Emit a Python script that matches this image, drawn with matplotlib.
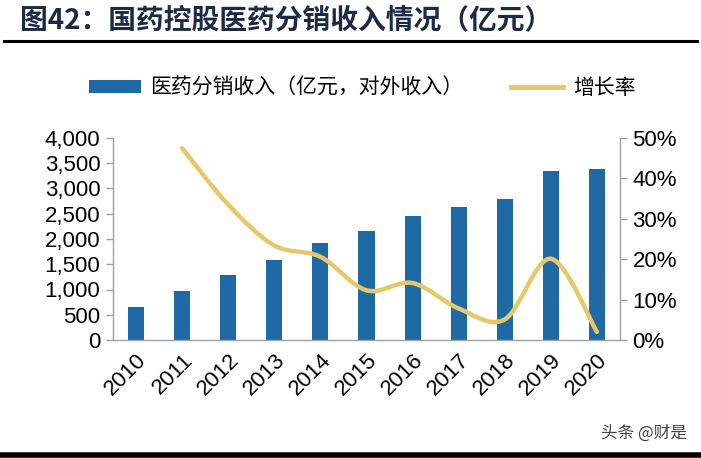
import matplotlib
matplotlib.use("Agg")
import matplotlib.pyplot as plt
from matplotlib.path import Path
from matplotlib.patches import PathPatch, Patch
from matplotlib.lines import Line2D
from matplotlib.ticker import FuncFormatter
import numpy as np

years = ["2010", "2011", "2012", "2013", "2014", "2015", "2016", "2017", "2018", "2019", "2020"]
revenue = [658, 967, 1296, 1592, 1921, 2164, 2454, 2632, 2789, 3342, 3395]
growth_years = ["2011", "2012", "2013", "2014", "2015", "2016", "2017", "2018", "2019", "2020"]
growth = [47.5, 33.5, 23.4, 20.6, 12.3, 14.1, 7.8, 5.1, 20.1, 2.0]
left_ticks = [0, 500, 1000, 1500, 2000, 2500, 3000, 3500, 4000]
right_ticks = [0, 10, 20, 30, 40, 50]
title = "图42：国药控股医药分销收入情况（亿元）"
bar_label = "医药分销收入（亿元，对外收入）"
line_label = "增长率"
watermark = "头条 @财是"

BAR = "#1f6aa5"
LINE = "#e6c86a"
AXC = "#a0a0a0"
CJK = ["Noto Sans CJK SC", "DejaVu Sans"]
NUM = ["Liberation Sans", "DejaVu Sans"]

fig = plt.figure(figsize=(7.01, 4.58), dpi=100)
ax = fig.add_axes([113/701, 1-340/458, (620-113)/701, (340-138)/458])
ax2 = ax.twinx()

x = np.arange(len(years))
ax.bar(x, revenue, width=0.35, color=BAR, zorder=2)
ax.set_xlim(-0.5, len(years) - 0.5)
ax.set_ylim(0, 4000)
ax.set_yticks(left_ticks)
ax.yaxis.set_major_formatter(FuncFormatter(lambda v, p: f"{int(v):,}"))
ax.set_xticks(x)
ax.set_xticklabels(years, rotation=45, ha="right", va="top", rotation_mode="anchor")

ax2.set_ylim(0, 50)
ax2.set_yticks(right_ticks)
ax2.yaxis.set_major_formatter(FuncFormatter(lambda v, p: f"{int(v)}%"))

# smooth curve (Catmull-Rom -> Bezier) through the growth points
gx = np.array([years.index(y) for y in growth_years], dtype=float)
gy = np.array(growth, dtype=float)
pts = np.column_stack([gx, gy])
verts = [tuple(pts[0])]
codes = [Path.MOVETO]
n = len(pts)
for i in range(n - 1):
    p0 = pts[i - 1] if i > 0 else pts[i]
    p1 = pts[i]
    p2 = pts[i + 1]
    p3 = pts[i + 2] if i + 2 < n else pts[i + 1]
    c1 = p1 + (p2 - p0) / 6.0
    c2 = p2 - (p3 - p1) / 6.0
    verts += [tuple(c1), tuple(c2), tuple(p2)]
    codes += [Path.CURVE4] * 3
ax2.add_patch(PathPatch(Path(verts, codes), facecolor="none", edgecolor=LINE,
                        lw=3.2, capstyle="round", zorder=3))

for a in (ax, ax2):
    a.spines["top"].set_visible(False)
    for s in ("left", "right", "bottom"):
        a.spines[s].set_color(AXC)
        a.spines[s].set_linewidth(1.0)
ax.spines["right"].set_visible(False)
ax2.spines["left"].set_visible(False)
ax2.spines["bottom"].set_visible(False)

ax.tick_params(axis="y", length=5, width=1, color=AXC, labelsize=16, pad=4)
ax.tick_params(axis="x", length=0, labelsize=16, pad=7)
ax2.tick_params(axis="y", length=5, width=1, color=AXC, labelsize=16, pad=4)
for lab in ax.get_xticklabels() + ax.get_yticklabels() + ax2.get_yticklabels():
    lab.set_family(NUM)

# title and rules
fig.text(20/701, 1-20/458, title, family=CJK, fontsize=20, fontweight="bold",
         color="#1c2a44", ha="left", va="center")
fig.add_artist(Line2D([4/701, 697/701], [1-41/458, 1-41/458], color="black", lw=2.2))
fig.add_artist(Line2D([0, 1], [1-455/458, 1-455/458], color="black", lw=4))

# legend
handles = [Patch(facecolor=BAR, edgecolor="none"),
           Line2D([0], [0], color=LINE, lw=3.5)]
leg = fig.legend(handles, [bar_label, line_label], loc="center",
                 bbox_to_anchor=(362/701, 1-88/458), ncol=2, frameon=False,
                 prop={"family": CJK, "size": 15}, handlelength=2.5,
                 handleheight=0.55, handletextpad=0.45, columnspacing=2.3)

fig.text(687/701, 1-433/458, watermark, family=CJK, fontsize=12, color="#444444",
         ha="right", va="center")

fig.savefig("out.png", dpi=100)
